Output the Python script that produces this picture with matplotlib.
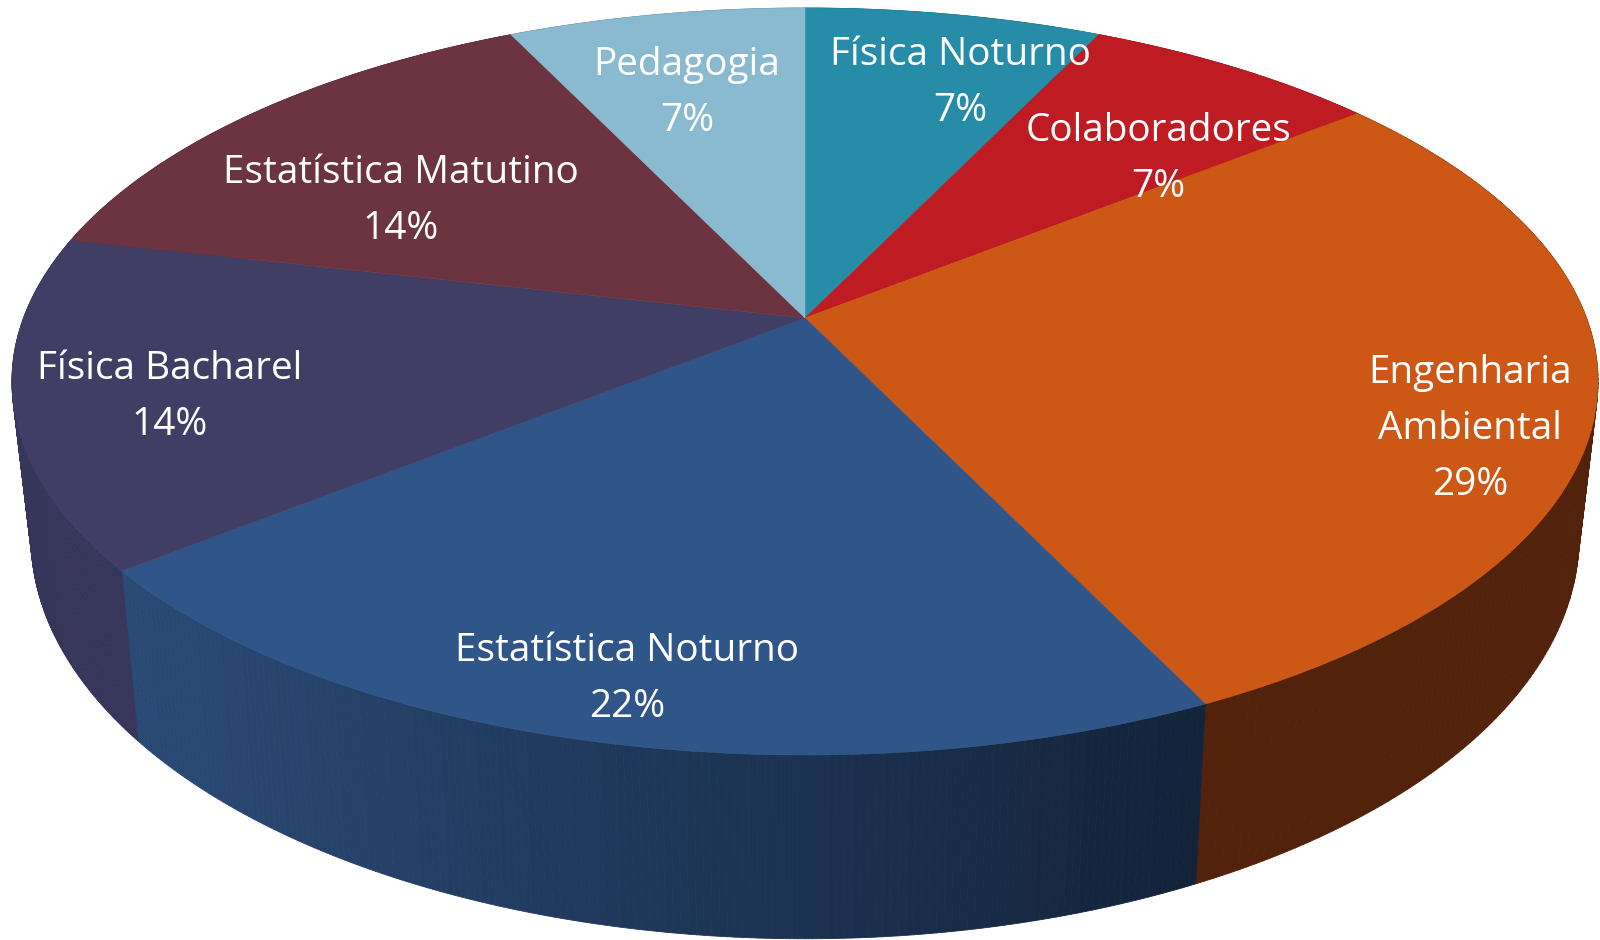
import numpy as np
import matplotlib
matplotlib.use("Agg")
import matplotlib.pyplot as plt
from matplotlib.collections import PolyCollection
from matplotlib.colors import to_rgb
from matplotlib.transforms import Transform

# ---- data ----
categories = ["Física Noturno", "Colaboradores", "Engenharia\nAmbiental",
              "Estatística Noturno", "Física Bacharel", "Estatística Matutino", "Pedagogia"]
counts = [1, 1, 4, 3, 2, 2, 1]
percent_labels = ["7%", "7%", "29%", "22%", "14%", "14%", "7%"]

# ---- styles ----
top_colors = ["#268CA8", "#BE1B23", "#CD5714", "#305689", "#403E64", "#6C3441", "#89BACF"]
wall_start = ["#1B6479", "#85131A", "#52220A", "#2A4A76", "#36355A", "#4A2530", "#5F8294"]
wall_end = ["#1B6479", "#85131A", "#52220A", "#13233A", "#36355A", "#4A2530", "#5F8294"]
label_xy = [(960, 83), (1158, 159), (1470, 429), (627, 679), (170, 397), (401, 201), (687, 93)]

# ---- perspective geometry (pixels of the 1600x940 canvas) ----
CX, CY, A, B, K = 805.0, 318.0, 781.5, 362.7, 0.170
LOW_SX, LOW_SY, LOW_Y0 = 0.976, 1.075, 469.0


class Perspective(Transform):
    input_dims = output_dims = 2

    def transform_non_affine(self, values):
        pts = np.asarray(values, dtype=float)
        w = 1 + K * pts[:, 1]
        return np.column_stack([CX + A * pts[:, 0] / w, CY - B * pts[:, 1] / w])


def rim(theta, lower=False):
    u, v = np.sin(theta), np.cos(theta)
    w = 1 + K * v
    if lower:
        return np.column_stack([CX + LOW_SX * A * u / w, LOW_Y0 - LOW_SY * B * v / w])
    return np.column_stack([CX + A * u / w, CY - B * v / w])


fig = plt.figure(figsize=(16, 9.4), dpi=100, facecolor="white")
ax = fig.add_axes([0, 0, 1, 1])

# side walls, one thin strip per step of angle, so that the shading can run along the rim
edges = np.concatenate([[0], np.cumsum(counts)]) / np.sum(counts) * 2 * np.pi
for i in range(len(counts)):
    th = np.linspace(edges[i], edges[i + 1], 160)
    up, lo = rim(th), rim(th, lower=True)
    quads = [np.vstack([up[j], up[j + 1], lo[j + 1], lo[j]]) for j in range(len(th) - 1)]
    xmid = np.array([q[:, 0].mean() for q in quads])
    f = np.clip((xmid - xmid.min()) / max(np.ptp(xmid), 1), 0, 1)[:, None]
    cols = (1 - f) * np.array(to_rgb(wall_start[i])) + f * np.array(to_rgb(wall_end[i]))
    ax.add_collection(PolyCollection(quads, facecolors=cols, edgecolors=cols, linewidths=0.6, zorder=1))

# top surface: a real pie, seen through the perspective transform
wedges, _ = ax.pie(counts, colors=top_colors, startangle=90, counterclock=False, radius=1,
                   wedgeprops=dict(linewidth=0.4))
persp = Perspective() + ax.transData
for w, c in zip(wedges, top_colors):
    w.set_edgecolor(c)
    w.set_transform(persp)
    w.set_clip_on(False)
    w.set_zorder(2)

for name, pct, (x, y) in zip(categories, percent_labels, label_xy):
    ax.text(x, y, f"{name}\n{pct}", ha="center", va="center", color="white",
            fontsize=27.9, family="Open Sans", linespacing=1.63, zorder=3)

ax.set_aspect("auto")
ax.set_xlim(0, 1600)
ax.set_ylim(940, 0)
ax.axis("off")
fig.savefig("out.png", dpi=100, facecolor="white")
